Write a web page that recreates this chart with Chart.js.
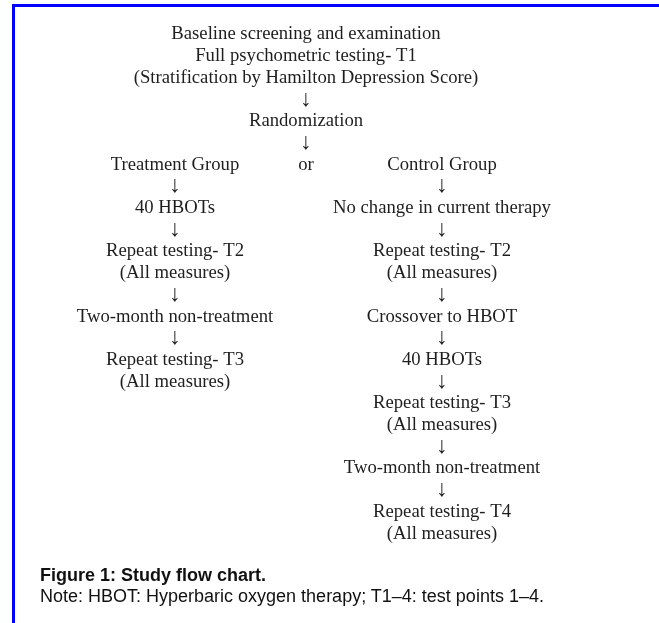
<!DOCTYPE html>
<html>
<head>
<meta charset="utf-8">
<script src="https://cdn.jsdelivr.net/npm/chart.js@4.4.1/dist/chart.umd.min.js"></script>
<style>
  html, body { margin: 0; padding: 0; background: #fff; }
  body { width: 659px; height: 623px; position: relative; overflow: hidden; }
  #frame {
    position: absolute; left: 12px; top: 4px; width: 660px; height: 640px;
    border: 3px solid #0000ff; box-sizing: border-box;
  }
  #chart { position: absolute; left: 0; top: 0; }
  .cap { position: absolute; left: 40px; font-family: "Liberation Sans", Arial, sans-serif; color: #111; white-space: nowrap; }
  #capTitle { top: 565px; font-size: 18px; font-weight: bold; }
  #capNote { top: 586px; font-size: 18px; }
</style>
</head>
<body>
<div id="frame"></div>
<canvas id="chart" width="659" height="623"></canvas>
<div class="cap" id="capTitle">Figure 1: Study flow chart.</div>
<div class="cap" id="capNote">Note: HBOT: Hyperbaric oxygen therapy; T1–4: test points 1–4.</div>
<script>
// column centres on the x scale (0..659)
const columnX = { left: 175, main: 306, right: 442 };

// each step: text, column, row
const mainSteps = [
  "Baseline screening and examination",
  "Full psychometric testing- T1",
  "(Stratification by Hamilton Depression Score)",
  "↓",
  "Randomization",
  "↓",
];
const mainRows = [0, 1, 2, 3, 4, 5];

const orLabel = ["or"];
const orRows = [6];

const treatmentSteps = [
  "Treatment Group", "↓", "40 HBOTs", "↓",
  "Repeat testing- T2", "(All measures)", "↓",
  "Two-month non-treatment", "↓",
  "Repeat testing- T3", "(All measures)",
];
const treatmentRows = [6, 7, 8, 9, 10, 11, 12, 13, 14, 15, 16];

const controlSteps = [
  "Control Group", "↓", "No change in current therapy", "↓",
  "Repeat testing- T2", "(All measures)", "↓",
  "Crossover to HBOT", "↓", "40 HBOTs", "↓",
  "Repeat testing- T3", "(All measures)", "↓",
  "Two-month non-treatment", "↓",
  "Repeat testing- T4", "(All measures)",
];
const controlRows = [6, 7, 8, 9, 10, 11, 12, 13, 14, 15, 16, 17, 18, 19, 20, 21, 22, 23];

function toPoints(texts, rows, col) {
  return texts.map((t, i) => ({ x: columnX[col], y: rows[i], label: t }));
}

const textPlugin = {
  id: "stepText",
  afterDatasetsDraw(chart) {
    const ctx = chart.ctx;
    const xs = chart.scales.x;
    const ys = chart.scales.y;
    ctx.save();
    ctx.fillStyle = "#1e1e1e";
    ctx.textAlign = "center";
    ctx.textBaseline = "middle";
    chart.data.datasets.forEach((ds) => {
      ds.data.forEach((p) => {
        // arrows are a bit taller than the text in the original
        ctx.font = p.label === "↓"
          ? '23px "Liberation Serif", "Times New Roman", serif'
          : '18.7px "Liberation Serif", "Times New Roman", serif';
        ctx.fillText(p.label, xs.getPixelForValue(p.x), ys.getPixelForValue(p.y));
      });
    });
    ctx.restore();
  },
};

const ctx = document.getElementById("chart").getContext("2d");
new Chart(ctx, {
  type: "scatter",
  data: {
    datasets: [
      { label: "Main", data: toPoints(mainSteps, mainRows, "main") },
      { label: "Or", data: toPoints(orLabel, orRows, "main") },
      { label: "Treatment Group", data: toPoints(treatmentSteps, treatmentRows, "left") },
      { label: "Control Group", data: toPoints(controlSteps, controlRows, "right") },
    ],
  },
  options: {
    responsive: false,
    animation: false,
    events: [],
    layout: { padding: 0 },
    elements: { point: { radius: 0 } },
    plugins: { legend: { display: false }, tooltip: { enabled: false } },
    scales: {
      x: { type: "linear", min: 0, max: 659, display: false },
      y: { type: "linear", min: -1.59, max: 27.12, reverse: true, display: false },
    },
  },
  plugins: [textPlugin],
});
</script>
</body>
</html>
